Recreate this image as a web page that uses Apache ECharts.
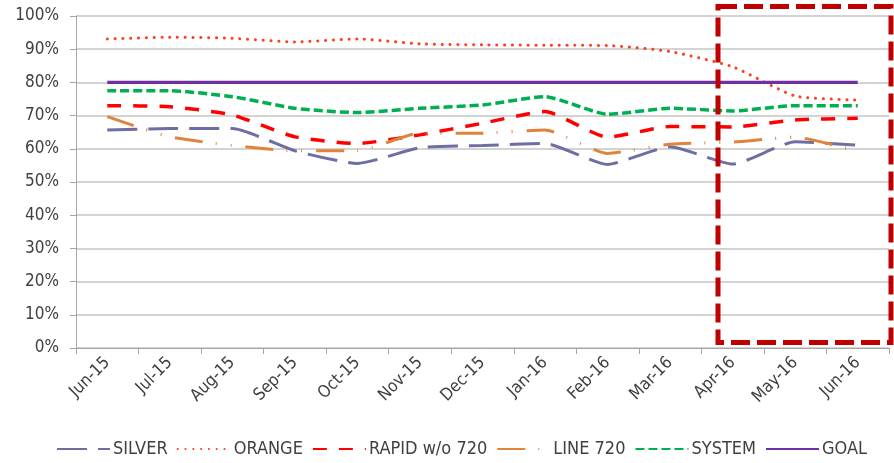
<!DOCTYPE html>
<html><head><meta charset="utf-8">
<script src="https://cdn.jsdelivr.net/npm/echarts@6/dist/echarts.min.js"></script>
<style>html,body{margin:0;padding:0;background:#fff}#c{width:894px;height:463px}</style>
</head><body><div id="c"></div>
<script>
const categories = ['Jun-15','Jul-15','Aug-15','Sep-15','Oct-15','Nov-15','Dec-15','Jan-16','Feb-16','Mar-16','Apr-16','May-16','Jun-16'];
const silver   = [65.7, 66.1, 66.1, 59.4, 55.6, 60.3, 61.0, 61.6, 55.3, 60.6, 55.4, 62.1, 61.1];
const orange   = [93.1, 93.6, 93.3, 92.2, 93.1, 91.6, 91.3, 91.2, 91.1, 89.3, 84.7, 75.9, 74.7];
const rapid    = [73.0, 72.7, 70.2, 63.6, 61.6, 64.2, 67.7, 71.2, 63.5, 66.7, 66.6, 68.7, 69.2];
const line720  = [69.7, 63.6, 61.0, 59.4, 59.4, 64.7, 64.7, 65.7, 58.6, 61.4, 62.0, 63.5, 59.3];
const system   = [77.5, 77.5, 75.7, 72.2, 70.9, 72.2, 73.2, 75.7, 70.4, 72.2, 71.4, 73.0, 73.0];
const goal     = [80, 80, 80, 80, 80, 80, 80, 80, 80, 80, 80, 80, 80];
const yTicks = {min: 0, max: 100, interval: 10};

const FONT = "'DejaVu Sans Condensed','Liberation Sans Narrow',sans-serif";
const chart = echarts.init(document.getElementById('c'));
function mk(name, data, color, width, type, cap) {
  return {name, type: 'line', data, symbol: 'none', showSymbol: false, smooth: 0.18,
    lineStyle: {color, width, type, cap: cap || 'butt'}, itemStyle: {color}};
}
chart.setOption({
  animation: false,
  grid: {left: 76, right: 5, top: 16, bottom: 115},
  legend: {bottom: 0, left: 51, itemWidth: 53, itemHeight: 12, itemGap: 9,
    itemStyle: {opacity: 0},
    textStyle: {fontFamily: FONT, fontSize: 18, color: '#404040', padding: [0,0,0,-2]},
    data: ['SILVER','ORANGE','RAPID w/o 720','LINE 720','SYSTEM','GOAL']},
  xAxis: {type: 'category', data: categories, boundaryGap: true,
    axisLine: {lineStyle: {color: '#a6a6a6', width: 1}},
    axisTick: {show: true, length: 6, lineStyle: {color: '#a6a6a6'}},
    axisLabel: {rotate: 45, fontFamily: FONT, fontSize: 17, color: '#404040', margin: 12}},
  yAxis: {type: 'value', min: yTicks.min, max: yTicks.max, interval: yTicks.interval,
    axisLine: {show: true, lineStyle: {color: '#a6a6a6'}},
    axisTick: {show: true, length: 6, lineStyle: {color: '#a6a6a6'}},
    splitLine: {lineStyle: {color: '#c4c4c4', width: 1.5}},
    axisLabel: {formatter: '{value}%', fontFamily: FONT, fontSize: 17, color: '#404040', margin: 17}},
  series: [
    mk('SILVER', silver, '#6E6EA3', 3, [30, 11]),
    mk('ORANGE', orange, '#FF3F1C', 3, [0.1, 7.7], 'round'),
    mk('RAPID w/o 720', rapid, '#FF0000', 3.5, [14, 12]),
    mk('LINE 720', line720, '#E0843C', 3, [28, 13, 1, 14, 1, 14]),
    mk('SYSTEM', system, '#00B050', 3.5, [9, 4]),
    mk('GOAL', goal, '#7030A0', 3.2, 'solid')
  ],
  graphic: [{type: 'rect', shape: {x: 718, y: 6.5, width: 173, height: 336},
    style: {fill: 'none', stroke: '#C00000', lineWidth: 5, lineDash: [19, 7]}, z: 100}]
});
</script></body></html>
